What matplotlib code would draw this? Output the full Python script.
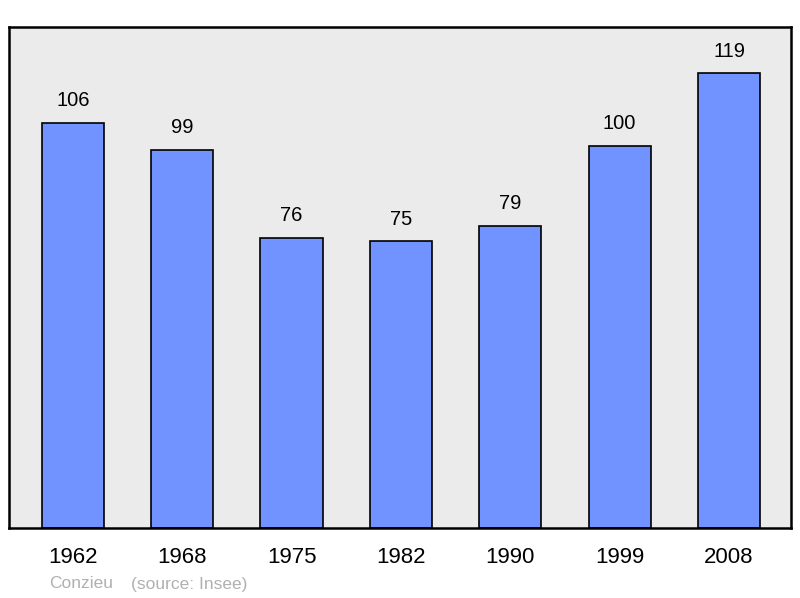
import matplotlib.pyplot as plt

plt.rcParams['font.family'] = ['Liberation Sans', 'DejaVu Sans']

years = ['1962', '1968', '1975', '1982', '1990', '1999', '2008']
population = [106, 99, 76, 75, 79, 100, 119]

fig = plt.figure(figsize=(8, 5.98), dpi=100)
ax = fig.add_axes([9 / 800, 1 - 528 / 598, 782 / 800, 501 / 598])
ax.set_facecolor('#ebebeb')

x = range(len(years))
bars = ax.bar(x, population, width=0.57, color='#7093ff',
              edgecolor='black', linewidth=1.2, zorder=2)

# value labels above the bars
for xi, v in zip(x, population):
    ax.text(xi, v + 3.3, str(v), ha='center', va='bottom', fontsize=14.5)

ax.set_xlim(-0.585, 6.567)
ax.set_ylim(0, 131.1)
ax.set_xticks(list(x))
ax.set_xticklabels(years, fontsize=16)
ax.tick_params(axis='x', length=0, pad=14)
ax.set_yticks([])
for s in ax.spines.values():
    s.set_linewidth(1.8)

fig.text(49 / 800, 1 - 584 / 598, 'Conzieu', color='#b0b0b0', fontsize=12.5, va='center')
fig.text(131 / 800, 1 - 584 / 598, '(source: Insee)', color='#b0b0b0', fontsize=12.5, va='center')

plt.savefig('out.png', dpi=100)
